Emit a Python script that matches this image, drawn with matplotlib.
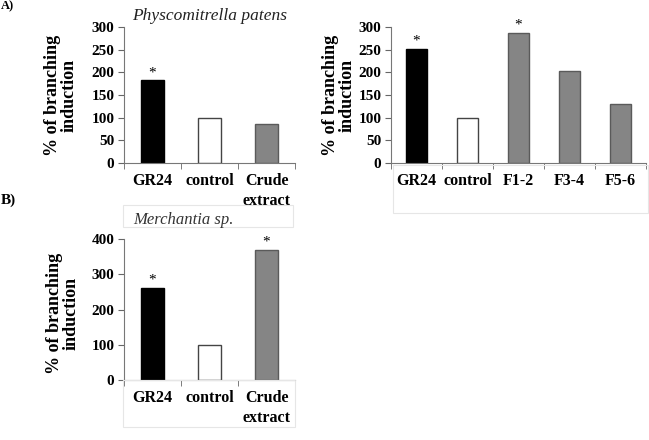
import matplotlib.pyplot as plt
from matplotlib.patches import Rectangle

plt.rcParams['font.family'] = ['Liberation Serif', 'DejaVu Serif']

# panel A, left: Physcomitrella patens
moss_cats = ['GR24', 'control', 'Crude\nextract']
moss_vals = [182, 100, 87]
moss_star = [True, False, False]

# panel A, right: fractions
frac_cats = ['GR24', 'control', 'F1-2', 'F3-4', 'F5-6']
frac_vals = [251, 100, 286, 202, 130]
frac_star = [True, False, True, False, False]

# panel B: Marchantia
march_cats = ['GR24', 'control', 'Crude\nextract']
march_vals = [260, 100, 369]
march_star = [True, False, True]

fill = {'GR24': 'black', 'control': 'white'}
edge = {'GR24': 'black', 'control': '#444444'}

W, H = 649, 440
fig = plt.figure(figsize=(W / 100, H / 100), dpi=100)


def px_axes(x0, y0, x1, y1):
    return fig.add_axes([x0 / W, 1 - y1 / H, (x1 - x0) / W, (y1 - y0) / H])


def draw_panel(ax, cats, vals, stars, ymax, step, width, lab_x, lab_y):
    xs = list(range(len(cats)))
    colors = [fill.get(c, '#858585') for c in cats]
    edges = [edge.get(c, '#5a5a5a') for c in cats]
    ax.bar(xs, vals, width=width, color=colors, edgecolor=edges, linewidth=1.0)
    for x, v, s in zip(xs, vals, stars):
        if s:
            ax.annotate('*', (x, v), xytext=(0, 1), textcoords='offset points',
                        ha='center', va='bottom', fontsize=11)
    ax.set_xlim(-0.5, len(cats) - 0.5)
    ax.set_ylim(0, ymax)
    ax.set_yticks(range(0, ymax + 1, step))
    ax.set_xticks(xs)
    ax.set_xticklabels(cats, fontsize=11.5, fontweight='bold', linespacing=1.35)
    ax.set_xticks([i - 0.5 for i in range(len(cats) + 1)], minor=True)
    ax.tick_params(axis='x', which='major', length=0, pad=7)
    ax.tick_params(axis='x', which='minor', length=4, direction='out', color='#666666')
    ax.tick_params(axis='y', length=4, direction='out', color='#666666', pad=3)
    for t in ax.get_yticklabels():
        t.set_fontweight('bold')
        t.set_fontsize(11)
    for sp in ['top', 'right']:
        ax.spines[sp].set_visible(False)
    for sp in ['left', 'bottom']:
        ax.spines[sp].set_color('#777777')
        ax.spines[sp].set_linewidth(0.8)
    ax.set_ylabel('% of branching\ninduction', fontsize=13, fontweight='bold',
                  linespacing=0.95)
    ax.yaxis.set_label_coords(lab_x, lab_y)


ax1 = px_axes(124, 27, 295, 163)
draw_panel(ax1, moss_cats, moss_vals, moss_star, 300, 50, 0.39, -0.27, 0.5)
ax1.set_title('Physcomitrella patens', fontsize=12.5, style='italic', pad=5,
              color='#222222')

ax2 = px_axes(391, 27, 646, 163)
draw_panel(ax2, frac_cats, frac_vals, frac_star, 300, 50, 0.41, -0.14, 0.5)

ax3 = px_axes(124, 239, 295, 380)
draw_panel(ax3, march_cats, march_vals, march_star, 400, 100, 0.39, -0.26, 0.475)
fig.text(183 / W, 1 - 220 / H, 'Merchantia sp.', fontsize=12, style='italic',
         ha='center', va='center', color='#333333')

# faint frames left over from the source figure
for x0, y0, x1, y1 in [(393, 165, 648, 213), (123, 380, 295, 427),
                       (123, 205, 293, 227)]:
    fig.patches.append(Rectangle((x0 / W, 1 - y1 / H), (x1 - x0) / W, (y1 - y0) / H,
                                 transform=fig.transFigure, fill=False,
                                 edgecolor='#e6e6e6', linewidth=0.8))

fig.text(1 / W, 1.0, 'A)', fontsize=9, fontweight='bold', va='top')
fig.text(1 / W, 1 - 200 / H, 'B)', fontsize=11, fontweight='bold', va='center')

fig.savefig('out.png', dpi=100)
